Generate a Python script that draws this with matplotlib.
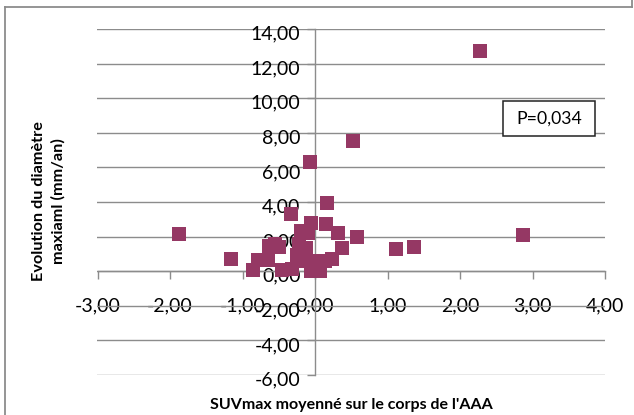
import matplotlib
matplotlib.use("Agg")
import matplotlib.pyplot as plt
from matplotlib.lines import Line2D
from matplotlib.patches import Rectangle
from matplotlib.transforms import ScaledTranslation

plt.rcParams['font.family'] = ['Lato', 'DejaVu Sans']

# SUVmax averaged over the aneurysm body vs. yearly change of the max diameter
suv = [2.28, 0.53, -0.07, 0.17, -0.33, -1.87, 2.87, 0.58, -0.05, 0.15,
       0.32, 0.37, 1.12, 1.37, -1.16, -0.64, -0.50, -0.78, -0.65, -0.85,
       -0.45, -0.32, -0.20, -0.10, -0.22, -0.12, -0.25, -0.21, -0.02, 0.14,
       0.23, -0.05, 0.07, -0.55]
growth = [12.70, 7.55, 6.30, 3.95, 3.30, 2.15, 2.10, 1.95, 2.80, 2.70,
          2.20, 1.35, 1.30, 1.40, 0.72, 1.45, 1.40, 0.62, 0.62, 0.05,
          0.05, 0.10, 2.30, 2.20, 1.55, 1.35, 0.95, 0.60, 0.60, 0.60,
          0.70, 0.03, 0.03, 1.55]

x_ticks = [-3, -2, -1, 0, 1, 2, 3, 4]
y_ticks = [-6, -4, -2, 0, 2, 4, 6, 8, 10, 12, 14]
x_label = "SUVmax moyenné sur le corps de l'AAA"
y_label = "Evolution du diamètre\nmaxiaml (mm/an)"
p_text = "P=0,034"

W, H = 634, 415
fig = plt.figure(figsize=(W / 100, H / 100), dpi=100)
L, R, T, B = 97.5, 605, 29, 375
ax = fig.add_axes([L / W, 1 - B / H, (R - L) / W, (B - T) / H])

grey = '#8c8c8c'
marker_color = '#953864'

ax.scatter(suv, growth, marker='s', s=88, color=marker_color, linewidths=0, zorder=3)

ax.set_xlim(-3, 4)
ax.set_ylim(-6, 14)
ax.set_xticks(x_ticks)
ax.set_yticks(y_ticks)
fmt = lambda v: f"{v:.2f}".replace('.', ',')
ax.set_xticklabels([fmt(v) for v in x_ticks])
ax.set_yticklabels([fmt(v) for v in y_ticks])

for s in ['top', 'right']:
    ax.spines[s].set_visible(False)
ax.spines['left'].set_position(('data', 0))
ax.spines['bottom'].set_position(('data', 0))
for s in ['left', 'bottom']:
    ax.spines[s].set_color(grey)
    ax.spines[s].set_linewidth(1.0)

ax.yaxis.grid(True, color=grey, linewidth=1.0)
ax.set_axisbelow(True)

ax.tick_params(axis='both', direction='out', length=5.5, width=1.0, color=grey,
               labelsize=14, labelcolor='black')
ax.tick_params(axis='y', pad=5.0)
ax.tick_params(axis='x', pad=19.5)
for lab in ax.get_xticklabels():
    lab.set_verticalalignment('center')
shift = ScaledTranslation(0, -0.035, fig.dpi_scale_trans)
for lab in ax.get_yticklabels():
    lab.set_transform(lab.get_transform() + shift)

# axis titles
xl = fig.text(351 / W, 1 - 405 / H, x_label, ha='center', va='center',
              fontsize=11, fontweight='bold')
yl = fig.text(48.5 / W, 1 - 201 / H, y_label, ha='center', va='center',
              rotation=90, fontsize=11, fontweight='bold', multialignment='center',
              linespacing=1.45)

# P-value box
bx0, bx1, by0, by1 = 502.6, 595.2, 100.7, 135.7
fig.patches.append(Rectangle((bx0 / W, 1 - by1 / H), (bx1 - bx0) / W, (by1 - by0) / H,
                             transform=fig.transFigure, facecolor='white',
                             edgecolor='#222222', linewidth=1.1, zorder=5))
pt = fig.text((bx0 + bx1) / 2 / W, 1 - 119 / H, p_text, ha='center', va='center',
              fontsize=13, zorder=6)

# chart frame
for xs, ys in [([5, 5], [7, 415]), ([5, 632], [7, 7]), ([632, 632], [0, 7])]:
    fig.lines.append(Line2D([x / W for x in xs], [1 - y / H for y in ys],
                            transform=fig.transFigure, color=grey, linewidth=1.3))

# size the titles to their printed widths
fig.canvas.draw()
def fit(t, target, use_height=False):
    bb = t.get_window_extent()
    cur = bb.height if use_height else bb.width
    t.set_fontsize(t.get_fontsize() * target / cur)
fit(xl, 282)
fit(yl, 160, use_height=True)
fit(pt, 65.5)

fig.savefig('out.png', dpi=100)
